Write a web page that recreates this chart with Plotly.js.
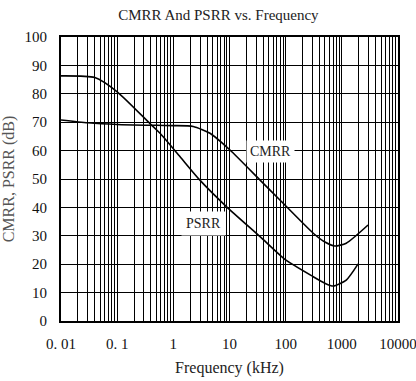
<!DOCTYPE html>
<html><head><meta charset="utf-8">
<script src="https://cdn.plot.ly/plotly-3.0.1.min.js"></script>
<style>html,body{margin:0;padding:0;background:#fff}</style>
</head><body><div id="chart" style="width:416px;height:381px"></div>
<script>
const psrrFreq = [0.01, 0.04, 0.1, 0.38, 0.58, 1.31, 2.97, 8.9, 35, 100, 310, 500, 700, 1200, 1950];
const psrrDb   = [86.3, 85.7, 80.7, 69.6, 66.1, 57.9, 49.6, 40.2, 29.7, 21.5, 15.6, 13.3, 12.3, 14.4, 20.1];
const cmrrFreq = [0.01, 0.03, 0.1, 0.5, 1, 2.26, 4.5, 10.2, 35, 79, 310, 500, 750, 1200, 2930];
const cmrrDb   = [70.8, 69.8, 69.2, 68.9, 68.8, 68.5, 66.1, 60.2, 49.6, 42.6, 30.9, 27.8, 26.4, 27.4, 33.8];
const decadeVals = [0.01, 0.1, 1, 10, 100, 1000, 10000];
const decadeText = ["0. 01", "0. 1", "1", "10", "100", "1000", "10000"];
const yTicks = [0,10,20,30,40,50,60,70,80,90,100];

const xv = [], xt = [];
for (let d = 0; d < decadeVals.length; d++) {
  for (let m = 1; m <= 9; m++) {
    const v = decadeVals[d] * m;
    if (d === decadeVals.length - 1 && m > 1) break;
    xv.push(v);
    xt.push(m === 1 ? decadeText[d] : "");
  }
}
const font = "Liberation Serif, Times New Roman, Times, DejaVu Serif, serif";
const traces = [
  {x: cmrrFreq, y: cmrrDb, mode: 'lines', line: {color: '#000', width: 1.6, shape: 'spline', smoothing: 0.6}, hoverinfo: 'skip'},
  {x: psrrFreq, y: psrrDb, mode: 'lines', line: {color: '#000', width: 1.6, shape: 'spline', smoothing: 0.6}, hoverinfo: 'skip'}
];
const layout = {
  width: 416, height: 381,
  margin: {l: 61, r: 18, t: 37, b: 60},
  paper_bgcolor: '#fff', plot_bgcolor: '#fff',
  showlegend: false,
  font: {family: font, color: '#000', size: 13},
  title: {text: 'CMRR And PSRR vs. Frequency', font: {family: font, size: 15, color: '#222'}, x: 0.525, xanchor: 'center', y: 0.96, yanchor: 'middle'},
  xaxis: {type: 'log', range: [-2, 4], tickmode: 'array', tickvals: xv, ticktext: xt,
    showgrid: true, gridcolor: '#000', gridwidth: 1, ticks: '', zeroline: false,
    showline: true, mirror: true, linecolor: '#000', linewidth: 2, ticklabelstandoff: 8,
    ticklabeloverflow: 'allow',
    title: {text: 'Frequency (kHz)', font: {family: font, size: 16, color: '#222'}, standoff: 11},
    tickfont: {family: font, size: 15, color: '#111'}},
  yaxis: {range: [0, 100], tickmode: 'array', tickvals: yTicks,
    showgrid: true, gridcolor: '#000', gridwidth: 1, ticks: '', zeroline: false,
    showline: true, mirror: true, linecolor: '#000', linewidth: 2, ticklabelstandoff: 9,
    title: {text: 'CMRR, PSRR (dB)', font: {family: font, size: 16, color: '#555'}, standoff: 6},
    tickfont: {family: font, size: 15, color: '#111'}},
  annotations: [
    {x: Math.log10(54.6), y: 59.6, xref: 'x', yref: 'y', text: 'CMRR', showarrow: false, bgcolor: '#fff', font: {family: font, size: 14, color: '#222'}, borderpad: 3},
    {x: Math.log10(3.5), y: 34.2, xref: 'x', yref: 'y', text: 'PSRR', showarrow: false, bgcolor: '#fff', font: {family: font, size: 14, color: '#222'}, borderpad: 4}
  ]
};
Plotly.newPlot('chart', traces, layout, {staticPlot: true, displayModeBar: false});
</script></body></html>
